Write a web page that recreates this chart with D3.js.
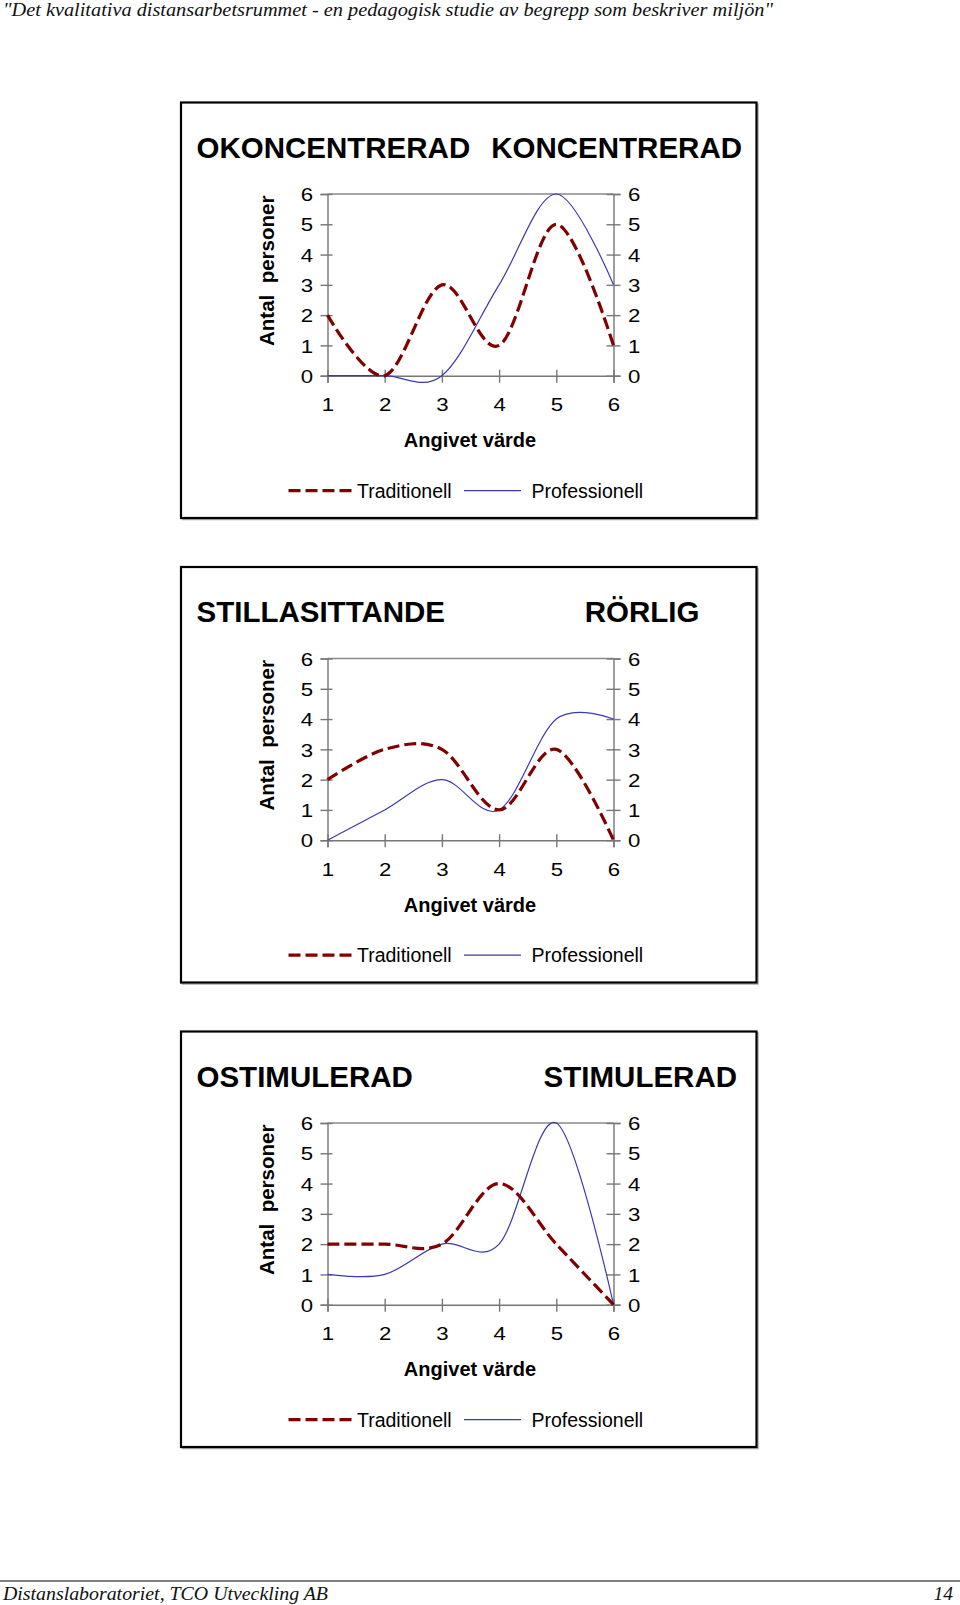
<!DOCTYPE html>
<html>
<head>
<meta charset="utf-8">
<script src="https://cdn.jsdelivr.net/npm/d3@7"></script>
<style>
  html, body { margin: 0; padding: 0; background: #fff; }
  svg text { font-family: "Liberation Sans", Arial, sans-serif; }
</style>
</head>
<body>
<svg id="chart" width="960" height="1605"></svg>
<script>
// ---- data ----
const categories = [1, 2, 3, 4, 5, 6];
const yTicks = [0, 1, 2, 3, 4, 5, 6];
const titlesLeft = ["OKONCENTRERAD", "STILLASITTANDE", "OSTIMULERAD"];
const titlesRight = ["KONCENTRERAD", "RÖRLIG", "STIMULERAD"];
const traditionell1 = [2, 0, 3, 1, 5, 1];
const professionell1 = [0, 0, 0, 3, 6, 3];
const traditionell2 = [2, 3, 3, 1, 3, 0];
const professionell2 = [0, 1, 2, 1, 4, 4];
const traditionell3 = [2, 2, 2, 4, 2, 0];
const professionell3 = [1, 1, 2, 2, 6, 0];
const seriesNames = ["Traditionell", "Professionell"];
const xTitle = "Angivet värde";
const yTitle = "Antal  personer";
const headerText = "\"Det kvalitativa distansarbetsrummet - en pedagogisk studie av begrepp som beskriver miljön\"";
const footerLeft = "Distanslaboratoriet, TCO Utveckling AB";
const footerRight = "14";

const panels = [
  { left: titlesLeft[0], right: titlesRight[0], trad: traditionell1, prof: professionell1 },
  { left: titlesLeft[1], right: titlesRight[1], trad: traditionell2, prof: professionell2 },
  { left: titlesLeft[2], right: titlesRight[2], trad: traditionell3, prof: professionell3 }
];
const rightTitleEnd = [742, 699.5, 737];

const svg = d3.select("#chart");
const tradColor = "#800000";
const profColor = "#3a3ab0";
const axisColor = "#777";
const SX = 1.2; // horizontal stretch of tick labels

// header
svg.append("text").attr("x", 3).attr("y", 16)
  .attr("textLength", 770).attr("lengthAdjust", "spacingAndGlyphs")
  .style("font-family", "'Liberation Serif', 'Times New Roman', serif")
  .style("font-style", "italic").style("font-size", "19px").attr("fill", "#111")
  .text(headerText);

// footer
svg.append("line").attr("x1", 0).attr("x2", 960).attr("y1", 1581).attr("y2", 1581)
  .attr("stroke", "#000").attr("stroke-width", 1);
svg.append("text").attr("x", 3).attr("y", 1600)
  .attr("textLength", 325).attr("lengthAdjust", "spacingAndGlyphs")
  .style("font-family", "'Liberation Serif', 'Times New Roman', serif")
  .style("font-style", "italic").style("font-size", "19.5px").attr("fill", "#111")
  .text(footerLeft);
svg.append("text").attr("x", 953).attr("y", 1600).attr("text-anchor", "end")
  .style("font-family", "'Liberation Serif', 'Times New Roman', serif")
  .style("font-style", "italic").style("font-size", "19.5px").attr("fill", "#111")
  .text(footerRight);

const PANEL_STEP = 464.5;

panels.forEach((p, i) => {
  const dy = i * PANEL_STEP;
  const g = svg.append("g");

  // frame with slight shadow
  g.append("rect").attr("x", 182.5).attr("y", 104 + dy).attr("width", 575.5).attr("height", 415.5)
    .attr("fill", "none").attr("stroke", "#aaa").attr("stroke-width", 1.5);
  g.append("rect").attr("x", 181).attr("y", 102.5 + dy).attr("width", 575.5).attr("height", 415.5)
    .attr("fill", "#fff").attr("stroke", "#000").attr("stroke-width", 2.2);

  // titles
  g.append("text").attr("x", 196.5).attr("y", 157.5 + dy)
    .style("font-weight", "bold").style("font-size", "29.5px").attr("fill", "#000")
    .text(p.left);
  g.append("text").attr("x", rightTitleEnd[i]).attr("y", 157.5 + dy).attr("text-anchor", "end")
    .style("font-weight", "bold").style("font-size", "29.5px").attr("fill", "#000")
    .text(p.right);

  const x = d3.scaleLinear().domain([1, 6]).range([327.5, 613.5]);
  const y = d3.scaleLinear().domain([0, 6]).range([375.7 + dy, 194 + dy]);

  // top border of plot area
  g.append("line").attr("x1", x(1)).attr("x2", x(6)).attr("y1", y(6)).attr("y2", y(6))
    .attr("stroke", "#8a8a8a").attr("stroke-width", 1.6);

  const styleTick = sel => sel.style("font-size", "18.5px").attr("fill", "#000")
    .style("font-family", "'Liberation Sans', Arial, sans-serif");

  // left axis
  const la = g.append("g").attr("transform", `translate(${x(1)},0)`)
    .call(d3.axisLeft(y).tickValues(yTicks).tickSize(7).tickPadding(7).tickFormat(d3.format("d")));
  la.select(".domain").attr("stroke", axisColor).attr("stroke-width", 1.4);
  la.selectAll(".tick line").attr("x1", 5).attr("stroke", axisColor).attr("stroke-width", 1.4);
  la.selectAll(".tick text").attr("x", -14.5 / SX).attr("dy", "0.36em")
    .attr("transform", `scale(${SX},1)`).call(styleTick);

  // right axis
  const ra = g.append("g").attr("transform", `translate(${x(6)},0)`)
    .call(d3.axisRight(y).tickValues(yTicks).tickSize(7).tickPadding(7).tickFormat(d3.format("d")));
  ra.select(".domain").attr("stroke", axisColor).attr("stroke-width", 1.4);
  ra.selectAll(".tick line").attr("x1", -7).attr("stroke", axisColor).attr("stroke-width", 1.4);
  ra.selectAll(".tick text").attr("x", 14.5 / SX).attr("dy", "0.36em")
    .attr("transform", `scale(${SX},1)`).call(styleTick);

  // bottom axis
  const ba = g.append("g").attr("transform", `translate(0,${y(0)})`)
    .call(d3.axisBottom(x).tickValues(categories).tickSize(7).tickPadding(14).tickFormat(d3.format("d")));
  ba.select(".domain").attr("stroke", axisColor).attr("stroke-width", 1.4);
  ba.selectAll(".tick line").attr("y1", -6).attr("stroke", axisColor).attr("stroke-width", 1.4);
  ba.selectAll(".tick text").attr("y", 29).attr("dy", "0.36em")
    .attr("transform", `scale(${SX},1)`).call(styleTick);

  // axis titles
  g.append("text").attr("x", 470).attr("y", 447 + dy).attr("text-anchor", "middle")
    .style("font-weight", "bold").style("font-size", "20px").attr("fill", "#000")
    .text(xTitle);
  g.append("text").attr("transform", `translate(273.5,${270.8 + dy}) rotate(-90)`)
    .attr("text-anchor", "middle").style("white-space", "pre")
    .style("font-weight", "bold").style("font-size", "20.5px").attr("fill", "#000")
    .text(yTitle);

  // lines
  const line = d3.line()
    .x((d, k) => x(categories[k]))
    .y(d => y(d))
    .curve(d3.curveCardinal.tension(0));

  g.append("path").datum(p.prof).attr("d", line)
    .attr("fill", "none").attr("stroke", profColor).attr("stroke-width", 1.2);
  g.append("path").datum(p.trad).attr("d", line)
    .attr("fill", "none").attr("stroke", tradColor).attr("stroke-width", 3.2)
    .attr("stroke-dasharray", "12,5");

  // legend
  const ly = 490.7 + dy;
  g.append("line").attr("x1", 288.5).attr("x2", 351.5).attr("y1", ly).attr("y2", ly)
    .attr("stroke", tradColor).attr("stroke-width", 3.2).attr("stroke-dasharray", "12,5");
  g.append("text").attr("x", 357).attr("y", ly).attr("dy", "0.36em")
    .style("font-size", "19.5px").attr("fill", "#000").text(seriesNames[0]);
  g.append("line").attr("x1", 464).attr("x2", 521).attr("y1", ly).attr("y2", ly)
    .attr("stroke", profColor).attr("stroke-width", 1.2);
  g.append("text").attr("x", 531.5).attr("y", ly).attr("dy", "0.36em")
    .style("font-size", "19.5px").attr("fill", "#000").text(seriesNames[1]);
});
</script>
</body>
</html>
